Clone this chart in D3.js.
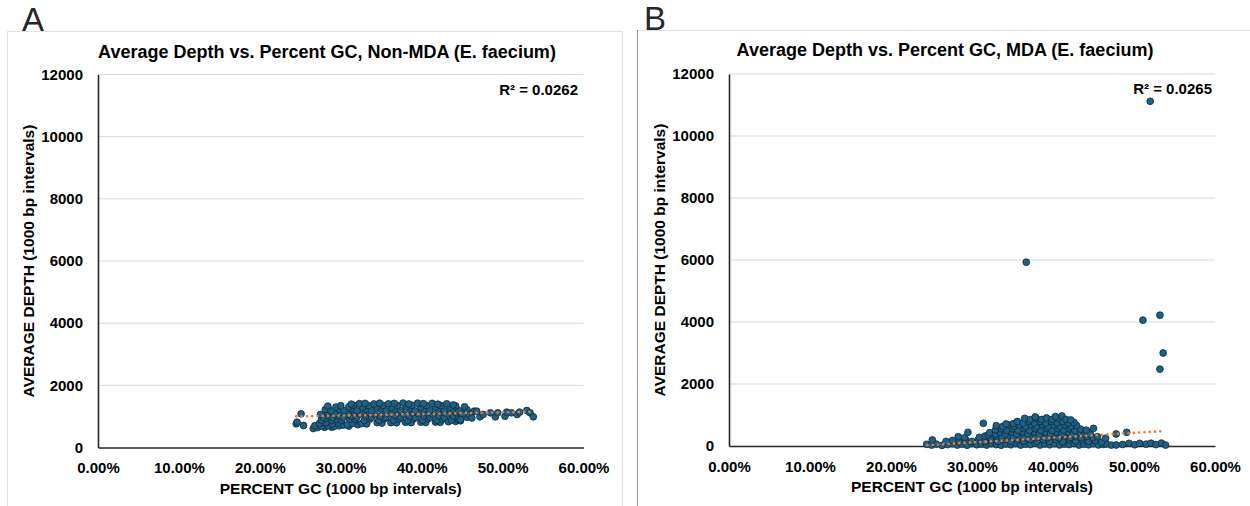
<!DOCTYPE html>
<head>
  <meta charset="utf-8">
  <style>
    body { margin: 0; background: #fff; }
    text { font-family: "Liberation Sans", Arial, sans-serif; font-weight: bold; fill: #000; }
    .letter { font-family: "Liberation Sans", Arial, sans-serif; font-weight: normal; font-size: 33px; fill: #262626; }
  </style>
  <script src="https://d3js.org/d3.v7.min.js" charset="utf-8"></script>
</head>
<body>
  <script>
    // tick values
    var yTicks = [0, 2000, 4000, 6000, 8000, 10000, 12000];
    var xTicks = [0, 10, 20, 30, 40, 50, 60];

    var titles = ["Average Depth vs. Percent GC, Non-MDA (E. faecium)",
                  "Average Depth vs. Percent GC, MDA (E. faecium)"];
    var r2Labels = ["R\u00b2 = 0.0262", "R\u00b2 = 0.0265"];
    var xTitle = "PERCENT GC (1000 bp intervals)";
    var yTitle = "AVERAGE DEPTH (1000 bp intervals)";

    // trendline ends [gc %, depth]
    var trendA = [[24.5, 1000], [53.6, 1150]];
    var trendB = [[24.5, 30], [53.6, 480]];

    // non-MDA points [gc %, depth]
    var pointsA = [
      [24.5,762],[24.6,815],[25.4,708],[25.1,1084],[26.6,611],[27.1,640],[28.0,650],[28.9,653],[29.8,700],
      [26.8,700],[27.6,690],[28.4,700],[29.2,680],[30.3,720],[31.0,690],[32.1,735],
      [27.4,780],[28.2,800],[29.0,760],[29.7,790],[30.8,730],[31.5,780],[32.6,770],[33.2,760],[34.5,800],[35.1,785],
      [36.2,800],[36.9,795],[38.0,810],[38.7,800],[39.9,815],[40.5,805],[41.7,820],[42.3,810],[43.3,830],[44.2,840],
      [27.6,880],[28.1,930],[28.9,870],[29.5,905],[30.1,875],[31.1,920],[31.8,895],[32.9,870],[33.6,915],[34.7,880],
      [35.4,925],[36.5,880],[37.2,915],[38.3,870],[39.0,920],[40.1,880],[40.8,925],[41.9,875],[42.6,915],[43.7,880],[44.5,910],[44.8,860],
      [27.8,980],[28.5,1020],[29.0,965],[29.7,1025],[30.3,970],[31.3,1015],[32.0,975],[33.1,1020],[33.8,970],[34.9,1010],
      [35.6,965],[36.7,1025],[37.4,975],[38.5,1015],[39.2,965],[40.3,1020],[41.0,975],[42.1,1020],[42.8,970],[43.9,1010],[44.6,975],[45.6,970],
      [27.5,1062],[28.3,1120],[29.3,1075],[30.0,1130],[30.9,1070],[31.7,1125],[32.4,1080],[33.5,1130],[34.2,1075],[35.3,1120],
      [36.0,1080],[37.1,1130],[37.8,1070],[38.9,1125],[39.6,1080],[40.7,1120],[41.4,1075],[42.5,1130],[43.2,1080],[44.3,1120],[45.1,1075],[46.0,1100],
      [28.1,1220],[28.8,1180],[29.8,1235],[30.4,1185],[31.4,1240],[32.0,1180],[33.1,1230],[33.8,1185],[34.9,1240],[35.6,1180],[36.7,1235],
      [37.4,1185],[38.5,1240],[39.2,1180],[40.3,1230],[41.0,1185],[42.1,1240],[42.8,1180],[43.9,1230],[44.6,1185],[45.6,1215],[46.5,1170],
      [28.4,1330],[29.4,1300],[30.0,1345],[31.0,1310],[31.6,1355],[32.7,1300],[33.4,1350],[34.5,1305],[35.2,1355],[36.3,1300],
      [37.0,1350],[38.1,1310],[38.8,1355],[39.9,1300],[40.6,1350],[41.7,1305],[42.4,1345],[43.5,1300],[44.2,1335],[45.3,1310],
      [31.3,1395],[32.3,1410],[33.0,1420],[34.1,1400],[34.8,1425],[35.9,1405],[36.6,1420],[37.7,1430],[38.4,1400],[39.5,1425],
      [40.2,1410],[41.3,1420],[42.0,1395],[43.1,1405],[43.9,1370],
      [44.8,900],[45.9,1050],[46.2,950],[46.8,1168],[47.2,987],[47.6,1062],[48.5,1116],[49.1,987],[49.4,1116],[50.3,1008],
      [50.5,1137],[51.1,1116],[51.8,1062],[52.1,1137],[53.0,1190],[53.4,1116],[53.8,987]
    ];

    // MDA points [gc %, depth]
    var pointsB = [
      [24.4,55],[25.0,30],[25.6,60],[26.3,20],[27.0,45],[27.6,70],[28.2,30],[28.8,60],[29.4,25],[30.0,75],[30.6,40],[31.2,60],
      [31.8,30],[32.4,70],[33.0,45],[33.6,25],[34.2,65],[34.8,40],[35.4,75],[36.0,30],[36.6,60],[37.2,45],[37.8,80],[38.4,30],
      [39.0,65],[39.6,40],[40.2,70],[40.8,35],[41.4,60],[42.0,45],[42.6,75],[43.2,30],[43.8,60],[44.4,40],[45.0,70],[45.6,35],
      [46.2,55],[46.6,65],[47.2,30],[47.8,32],[48.6,50],[49.4,87],[50.1,40],[50.7,85],[51.5,60],[52.1,90],[52.7,45],[53.4,95],[53.9,30],
      [25.1,194],[26.8,150],[27.6,180],[28.4,140],[29.2,200],[30.0,150],[30.8,205],[31.6,140],[32.4,195],[33.2,150],[34.0,210],
      [34.8,145],[35.6,200],[36.4,155],[37.2,210],[38.0,145],[38.8,200],[39.6,150],[40.4,205],[41.2,140],[42.0,200],[42.8,155],
      [43.6,195],[44.4,150],[45.2,170],[46.0,120],
      [28.3,300],[29.1,270],[30.9,280],[31.6,320],[32.3,265],[33.0,320],[33.7,270],[34.4,325],[35.1,265],[35.8,320],[36.5,270],
      [37.2,325],[37.9,265],[38.6,320],[39.3,270],[40.0,325],[40.7,265],[41.4,320],[42.1,270],[42.8,320],[43.5,265],[44.2,310],[44.9,270],
      [29.5,441],[32.0,355],[32.2,430],[32.9,385],[33.5,440],[34.1,385],[34.9,445],[35.5,385],[36.3,440],[36.9,390],[37.7,445],
      [38.3,385],[39.1,440],[39.7,390],[40.5,445],[41.1,385],[41.9,440],[42.5,390],[43.3,435],[43.9,395],[44.2,461],[44.6,380],
      [32.9,520],[33.6,560],[34.3,505],[35.0,560],[35.7,510],[36.4,565],[37.1,505],[37.8,560],[38.5,510],[39.2,565],[39.9,505],
      [40.6,560],[41.3,510],[42.0,560],[42.7,505],[43.4,545],[44.1,510],
      [33.0,655],[33.8,630],[34.5,680],[35.2,635],[35.9,685],[36.6,630],[37.3,680],[38.0,635],[38.7,685],[39.4,630],[40.1,680],
      [40.8,635],[41.5,680],[42.2,630],[42.9,665],
      [34.2,710],[35.1,720],[35.6,790],[36.3,740],[37.0,795],[37.7,745],[38.4,790],[39.1,740],[39.8,795],[40.5,745],[41.2,790],
      [41.9,745],[42.6,760],
      [36.5,893],[37.2,850],[37.9,900],[38.6,855],[39.2,905],[39.9,860],[40.6,900],[41.1,968],[41.6,860],[42.2,840],[37.8,940],[40.3,950],
      [31.4,732],[45.0,570],[49.1,441],[47.8,387],[46.5,250],[45.5,300],
      [36.7,5930],[52.0,11120],[51.1,4060],[53.2,4220],[53.6,3000],[53.2,2480]
    ];

    var w = 1250;
    var h = 506;

    var svg = d3.select("body")
                .append("svg")
                .attr("width", w)
                .attr("height", h);

    // panel frames
    svg.append("rect").attr("x", 7.5).attr("y", 31.5).attr("width", 615).attr("height", 490)
       .attr("fill", "none").attr("stroke", "#e0e0e0");
    svg.append("rect").attr("x", 637.5).attr("y", 30.5).attr("width", 620).attr("height", 490)
       .attr("fill", "none").attr("stroke", "#e0e0e0");
    svg.append("line").attr("x1", 637.5).attr("x2", 637.5).attr("y1", 30).attr("y2", h)
       .attr("stroke", "#9a9a9a").attr("stroke-width", 1);

    svg.append("text").attr("class", "letter").attr("x", 22).attr("y", 31).text("A");
    svg.append("text").attr("class", "letter").attr("x", 644).attr("y", 30).text("B");

    var panels = [
      { left: 98, right: 583.5, top: 74.5, bottom: 447.5, titleX: 327, titleY: 58, r2Y: 95, r2X: 578, points: pointsA, trend: trendA },
      { left: 729, right: 1215, top: 74, bottom: 446, titleX: 945, titleY: 56, r2Y: 94, r2X: 1212, points: pointsB, trend: trendB }
    ];

    panels.forEach(function(p, i) {
      var xScale = d3.scaleLinear().domain([0, 60]).range([p.left, p.right]);
      var yScale = d3.scaleLinear().domain([0, 12000]).range([p.bottom, p.top]);
      var g = svg.append("g");

      // gridlines
      g.selectAll(".grid")
       .data(yTicks.slice(1))
       .enter()
       .append("line")
       .attr("x1", p.left)
       .attr("x2", p.right)
       .attr("y1", function(d) { return yScale(d); })
       .attr("y2", function(d) { return yScale(d); })
       .attr("stroke", "#d9d9d9")
       .attr("stroke-width", 1);

      var yAxis = g.append("g")
                   .attr("transform", "translate(" + p.left + ",0)")
                   .call(d3.axisLeft(yScale).tickValues(yTicks).tickSize(0).tickPadding(15).tickFormat(d3.format("d")));
      var xAxis = g.append("g")
                   .attr("transform", "translate(0," + p.bottom + ")")
                   .call(d3.axisBottom(xScale).tickValues(xTicks).tickSize(0).tickPadding(15)
                           .tickFormat(function(d) { return d.toFixed(2) + "%"; }));
      [yAxis, xAxis].forEach(function(a) {
        a.select(".domain").attr("stroke", "#262626").attr("stroke-width", 1.6);
        a.selectAll("text").attr("font-family", "Liberation Sans, Arial, sans-serif")
         .attr("font-weight", "bold").attr("font-size", "15px").attr("fill", "#000");
      });

      // points
      g.selectAll("circle")
       .data(p.points)
       .enter()
       .append("circle")
       .attr("cx", function(d) { return xScale(d[0]); })
       .attr("cy", function(d) { return yScale(d[1]); })
       .attr("r", 3.4)
       .attr("fill", "#1f6184")
       .attr("stroke", "#0e2a3a")
       .attr("stroke-width", 0.8);

      // trendline
      g.append("path")
       .datum(p.trend)
       .attr("d", d3.line().x(function(d) { return xScale(d[0]); }).y(function(d) { return yScale(d[1]); }))
       .attr("fill", "none")
       .attr("stroke", "#ed7d31")
       .attr("stroke-width", 2.6)
       .attr("stroke-linecap", "round")
       .attr("stroke-dasharray", "0.1 5.2");

      g.append("text")
       .attr("x", p.titleX).attr("y", p.titleY)
       .attr("text-anchor", "middle")
       .attr("font-size", "18px")
       .text(titles[i]);

      g.append("text")
       .attr("x", p.r2X).attr("y", p.r2Y)
       .attr("text-anchor", "end")
       .attr("font-size", "15px")
       .text(r2Labels[i]);

      g.append("text")
       .attr("x", (p.left + p.right) / 2).attr("y", p.bottom + 46)
       .attr("text-anchor", "middle")
       .attr("font-size", "15.5px")
       .text(xTitle);

      g.append("text")
       .attr("transform", "translate(" + (p.left - 64) + "," + ((p.top + p.bottom) / 2) + ") rotate(-90)")
       .attr("text-anchor", "middle")
       .attr("font-size", "15.5px")
       .text(yTitle);
    });
  </script>
</body>
